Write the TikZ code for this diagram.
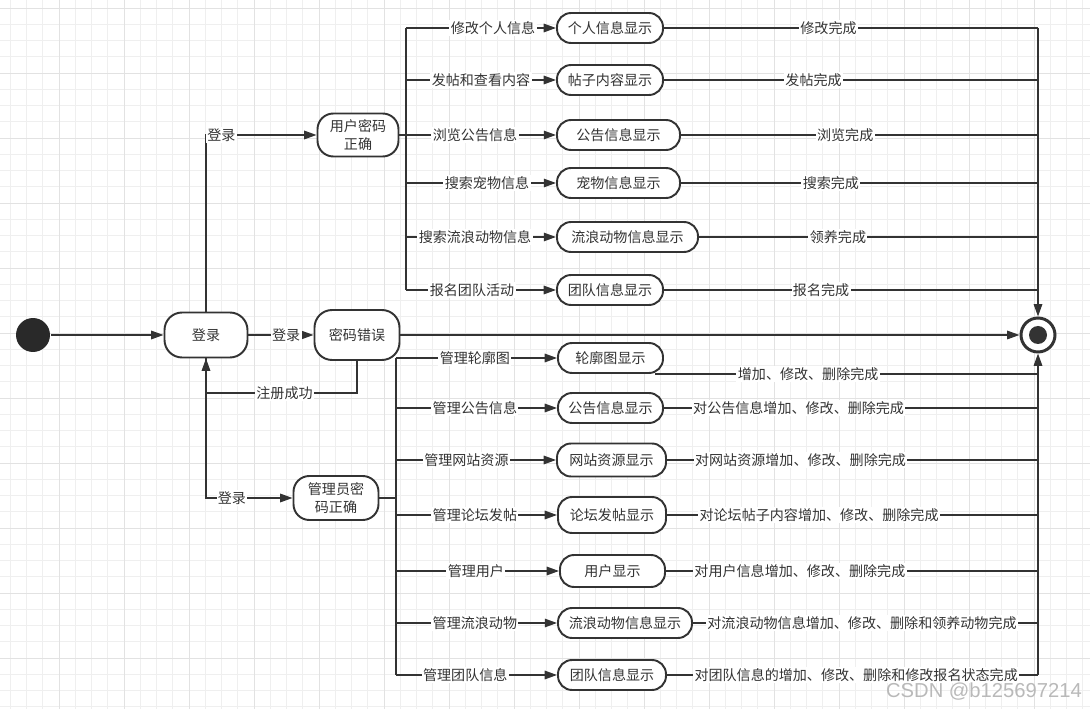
\documentclass[tikz,border=0pt]{standalone}
\usepackage{fontspec}
\setmainfont{Noto Sans CJK SC}
\newfontfamily\markfont{Liberation Sans}
\usetikzlibrary{arrows.meta,positioning}
\definecolor{ink}{HTML}{333333}
\definecolor{gridminor}{HTML}{EFEFEF}
\definecolor{gridmajor}{HTML}{E2E2E2}

\begin{document}
\begin{tikzpicture}[x=0.02cm,y=-0.02cm,line width=0.9pt,draw=ink,
        font=\fontsize{8}{10}\selectfont,
        state/.style={rectangle,rounded corners=8pt,draw=ink,line width=1.1pt,fill=white,
            text=ink,inner sep=1pt,align=center,minimum height=0.6cm},
        lbl/.style={fill=white,text=ink,inner sep=0.8pt},
        arr/.style={-{Triangle[length=7pt,width=4.8pt]}}]

        \useasboundingbox (0,0) rectangle (1090,709);

        % Background grid
        \foreach \gx in {10.25,26.5,...,1090} \draw[gridminor,line width=0.4pt] (\gx,0) -- (\gx,709);
        \foreach \gy in {8,24.25,...,709} \draw[gridminor,line width=0.4pt] (0,\gy) -- (1090,\gy);
        \foreach \gx in {59,124,...,1090} \draw[gridmajor,line width=0.5pt] (\gx,0) -- (\gx,709);
        \foreach \gy in {8,73,...,709} \draw[gridmajor,line width=0.5pt] (0,\gy) -- (1090,\gy);

        % Define vertices
        \node[circle,fill=ink!80!black,minimum size=0.68cm,inner sep=0] (init) at (33,335) {};
        \node[state,minimum width=1.66cm,minimum height=0.9cm,rounded corners=10pt] (login) at (206,335) {登录};
        \node[state,minimum width=1.62cm,minimum height=0.86cm,rounded corners=9pt] (uok) at (358,135) {用户密码\\正确};
        \node[state,minimum width=1.7cm,minimum height=1cm,rounded corners=10pt] (perr) at (357,335) {密码错误};
        \node[state,minimum width=1.7cm,minimum height=0.88cm,rounded corners=9pt] (aok) at (336,498) {管理员密\\码正确};
        \node[circle,draw=ink,line width=1.7pt,minimum size=0.68cm,inner sep=0,fill=white,
            path picture={\fill[ink] (path picture bounding box.center) circle (0.18cm);}] (fin) at (1038,335) {};

        \node[state,minimum width=2.12cm] (u1) at (610,28) {个人信息显示};
        \node[state,minimum width=2.12cm] (u2) at (610,80) {帖子内容显示};
        \node[state,minimum width=2.46cm] (u3) at (618.5,135) {公告信息显示};
        \node[state,minimum width=2.46cm] (u4) at (618.5,183) {宠物信息显示};
        \node[state,minimum width=2.82cm] (u5) at (627.5,237) {流浪动物信息显示};
        \node[state,minimum width=2.12cm] (u6) at (610,290) {团队信息显示};

        \node[state,minimum width=2.1cm] (a1) at (610.5,358) {轮廓图显示};
        \node[state,minimum width=2.1cm] (a2) at (610.5,408) {公告信息显示};
        \node[state,minimum width=2.18cm,minimum height=0.66cm] (a3) at (611.5,460) {网站资源显示};
        \node[state,minimum width=2.16cm,minimum height=0.72cm] (a4) at (612,515) {论坛发帖显示};
        \node[state,minimum width=2.1cm,minimum height=0.64cm] (a5) at (612.5,571) {用户显示};
        \node[state,minimum width=2.68cm] (a6) at (625,623) {流浪动物信息显示};
        \node[state,minimum width=2.16cm] (a7) at (612,675) {团队信息显示};

        \coordinate (ub) at (406,135);
        \coordinate (ab) at (396,498);
        \coordinate (a1o) at ([xshift=-0.18cm]a1.south east);

        % Draw edges
        \draw[arr] (init) -- (login);
        \draw[arr] (login.north) |- node[lbl,pos=0.57] {登录} (uok.west);
        \draw[arr] (login) -- node[lbl,pos=0.58] {登录} (perr);
        \draw[arr] (perr) -- (fin);
        \draw[arr] (perr.south) -- ++(0,32) -| node[lbl,pos=0.24] {注册成功} (login.south);
        \draw[arr] (login.south) |- node[lbl,pos=0.65] {登录} (aok.west);

        % user branches
        \draw (uok.east) -- (ub);
        \draw (ub |- u1) -- (ub |- u6);
        \draw[arr] (ub |- u1) -- node[lbl,pos=0.58] {修改个人信息} (u1);
        \draw[arr] (ub |- u2) -- node[lbl,pos=0.50] {发帖和查看内容} (u2);
        \draw[arr] (ub |- u3) -- node[lbl,pos=0.46] {浏览公告信息} (u3);
        \draw[arr] (ub |- u4) -- node[lbl,pos=0.54] {搜索宠物信息} (u4);
        \draw[arr] (ub |- u5) -- node[lbl,pos=0.46] {搜索流浪动物信息} (u5);
        \draw[arr] (ub |- u6) -- node[lbl,pos=0.44] {报名团队活动} (u6);

        \draw (u1) -- node[lbl,pos=0.44] {修改完成} (u1 -| fin);
        \draw (u2) -- node[lbl,pos=0.40] {发帖完成} (u2 -| fin);
        \draw (u3) -- node[lbl,pos=0.46] {浏览完成} (u3 -| fin);
        \draw (u4) -- node[lbl,pos=0.42] {搜索完成} (u4 -| fin);
        \draw (u5) -- node[lbl,pos=0.41] {领养完成} (u5 -| fin);
        \draw (u6) -- node[lbl,pos=0.42] {报名完成} (u6 -| fin);
        \draw[arr] (u1 -| fin) -- (fin);

        % admin branches
        \draw (aok) -- (ab);
        \draw (ab |- a1) -- (ab |- a7);
        \draw[arr] (ab |- a1) -- node[lbl,pos=0.49] {管理轮廓图} (a1);
        \draw[arr] (ab |- a2) -- node[lbl,pos=0.49] {管理公告信息} (a2);
        \draw[arr] (ab |- a3) -- node[lbl,pos=0.44] {管理网站资源} (a3);
        \draw[arr] (ab |- a4) -- node[lbl,pos=0.49] {管理论坛发帖} (a4);
        \draw[arr] (ab |- a5) -- node[lbl,pos=0.49] {管理用户} (a5);
        \draw[arr] (ab |- a6) -- node[lbl,pos=0.49] {管理流浪动物} (a6);
        \draw[arr] (ab |- a7) -- node[lbl,pos=0.43] {管理团队信息} (a7);

        \draw (a1o) -- node[lbl,pos=0.40] {增加、修改、删除完成} (a1o -| fin);
        \draw (a2) -- node[lbl,pos=0.36] {对公告信息增加、修改、删除完成} (a2 -| fin);
        \draw (a3) -- node[lbl,pos=0.36] {对网站资源增加、修改、删除完成} (a3 -| fin);
        \draw (a4) -- node[lbl,pos=0.41] {对论坛帖子内容增加、修改、删除完成} (a4 -| fin);
        \draw (a5) -- node[lbl,pos=0.36] {对用户信息增加、修改、删除完成} (a5 -| fin);
        \draw (a6) -- node[lbl,pos=0.49] {对流浪动物信息增加、修改、删除和领养动物完成} (a6 -| fin);
        \draw (a7) -- node[lbl,pos=0.51] {对团队信息的增加、修改、删除和修改报名状态完成} (a7 -| fin);
        \draw[arr] (a7 -| fin) -- (fin);

        \node[font=\markfont\fontsize{11.5}{12}\selectfont,text=gray!55] (mark) at (984,692) {CSDN @b125697214};
\end{tikzpicture}
\end{document}
